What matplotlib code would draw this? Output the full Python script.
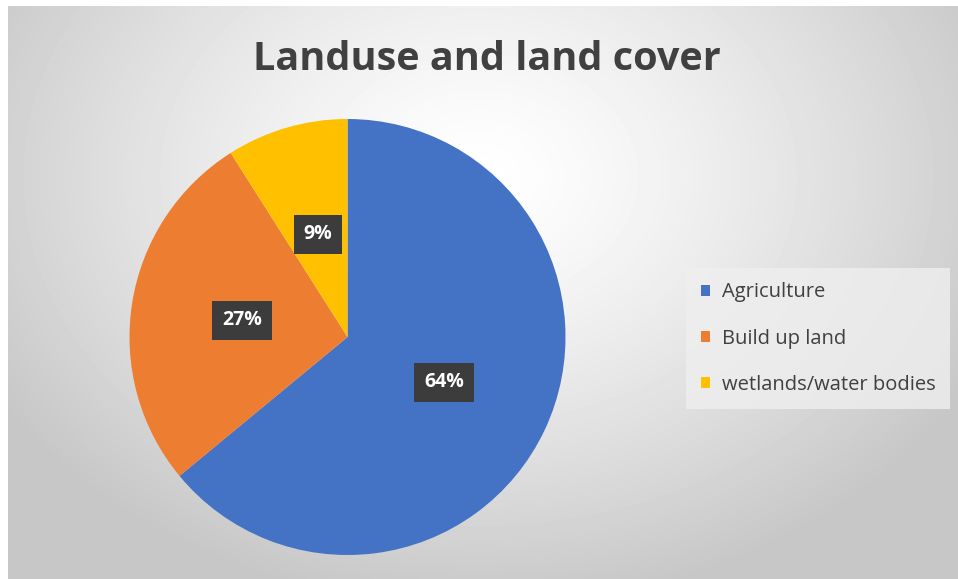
import numpy as np
import matplotlib.pyplot as plt
from matplotlib.patches import Patch

categories = ["Agriculture", "Build up land", "wetlands/water bodies"]
shares = [64, 27, 9]
colors = ["#4472C4", "#ED7D31", "#FFC000"]

W, H = 958, 579
fig = plt.figure(figsize=(W / 100, H / 100), dpi=100)
fig.patch.set_facecolor("white")

# radial gradient background
bg = fig.add_axes([8 / W, 0, 1 - 8 / W, 1 - 6 / H])
yy, xx = np.mgrid[0:573, 0:950]
d = np.hypot((xx - 470) / 560, (yy - 170) / 430)
shade = 1.0 - 0.22 * np.clip(d, 0, 1) ** 1.3
bg.imshow(shade, cmap="gray", vmin=0, vmax=1, aspect="auto", interpolation="bilinear")
bg.axis("off")

ax = fig.add_axes([0, 0, 1, 1])
ax.set_xlim(0, W)
ax.set_ylim(0, H)
ax.set_aspect("equal")
ax.axis("off")

wedges, texts, autotexts = ax.pie(
    shares, colors=colors, startangle=90, counterclock=False,
    center=(347.5, H - 337), radius=218, autopct="%d%%", pctdistance=0.49,
    wedgeprops=dict(linewidth=0),
    textprops=dict(color="white", fontsize=14, fontweight="bold", family="Open Sans"),
)
for t in autotexts:
    t.set_bbox(dict(boxstyle="square,pad=0.5", facecolor="#3c3c3c", edgecolor="none"))
ax.set_xlim(0, W)
ax.set_ylim(0, H)

fig.text(487 / W, 1 - 60 / H, "Landuse and land cover", ha="center", va="center",
         fontsize=28.5, fontweight="bold", color="#404040", family="Open Sans")

handles = [Patch(facecolor=c, edgecolor="none") for c in colors]
leg = fig.legend(handles, categories, loc="upper left", bbox_to_anchor=(686 / W, 1 - 268 / H),
                 frameon=True, fancybox=False, handlelength=0.45, handleheight=0.45,
                 handletextpad=0.6, labelspacing=1.3, borderpad=0.72, borderaxespad=0,
                 prop=dict(family="Open Sans", size=14.5))
leg.get_frame().set_facecolor("#efefef")
leg.get_frame().set_edgecolor("none")
leg.get_frame().set_alpha(0.8)
for t in leg.get_texts():
    t.set_color("#404040")

fig.savefig("out.png", dpi=100)
